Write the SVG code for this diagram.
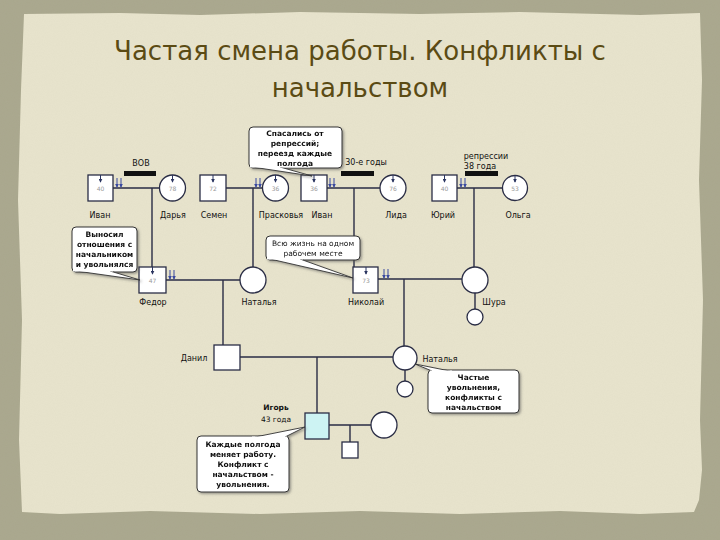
<svg xmlns="http://www.w3.org/2000/svg" width="720" height="540" viewBox="0 0 720 540">
<defs>
<filter id="grain" x="0" y="0" width="100%" height="100%">
<feTurbulence type="fractalNoise" baseFrequency="0.9" numOctaves="2" seed="3" result="n"/>
<feColorMatrix in="n" type="matrix" values="0 0 0 0 0.45  0 0 0 0 0.43  0 0 0 0 0.33  0 0 0 0.35 0"/>
</filter>
<filter id="sh" x="-10%" y="-10%" width="130%" height="140%">
<feDropShadow dx="1.5" dy="1.5" stdDeviation="0.8" flood-color="#555" flood-opacity="0.55"/>
</filter>
<marker id="ah" viewBox="0 0 6 6" refX="5" refY="3" markerWidth="4" markerHeight="4" orient="auto">
<path d="M0,0 L6,3 L0,6 z" fill="#2b3560"/>
</marker>
<marker id="ab" viewBox="0 0 6 6" refX="5" refY="3" markerWidth="4" markerHeight="4" orient="auto">
<path d="M0,0 L6,3 L0,6 z" fill="#3a4aa0"/>
</marker>
</defs>
<style>
.title{font-family:"DejaVu Sans",Verdana,sans-serif;font-size:26px;fill:#5b4b14;text-anchor:middle}
.lbl{font-family:"DejaVu Sans",sans-serif;font-size:8px;fill:#111;text-anchor:middle}
.num{font-family:"DejaVu Sans",sans-serif;font-size:6px;fill:#999;text-anchor:middle}
.co{font-family:"DejaVu Sans",sans-serif;font-size:7.5px;font-weight:bold;fill:#111;text-anchor:middle}
.cor{font-family:"DejaVu Sans",sans-serif;font-size:7.5px;fill:#111;text-anchor:middle}
.m{fill:#fff;stroke:#2a2d45;stroke-width:1.3}
.f{fill:#fff;stroke:#2a2d45;stroke-width:1.3}
.ln{stroke:#2a2d45;stroke-width:1.4;fill:none}
.in{stroke:#2b3560;stroke-width:1;marker-end:url(#ah)}
.dbl{stroke:#3a4aa0;stroke-width:1;marker-end:url(#ab)}
.bar{fill:#111}
.cb{fill:#fff;stroke:#333;stroke-width:1}
.tail{fill:#fff;stroke:#333;stroke-width:0.9}
</style>
<!-- background -->
<rect width="720" height="540" fill="#a9a78d"/>
<rect width="720" height="540" filter="url(#grain)" opacity="0.6"/>
<path d="M24,14 L120,13 L200,15 L300,12 L420,14 L520,12 L640,15 L700,13 L702,80 L699,180 L703,300 L700,420 L702,470 L699,500 L694,512 L640,514 L560,511 L460,514 L360,511 L260,514 L150,511 L60,514 L22,512 L19,440 L22,320 L18,200 L21,90 Z" fill="#e8e4cd"/>
<path d="M24,14 L120,13 L200,15 L300,12 L420,14 L520,12 L640,15 L700,13 L702,80 L699,180 L703,300 L700,420 L702,470 L699,500 L694,512 L640,514 L560,511 L460,514 L360,511 L260,514 L150,511 L60,514 L22,512 L19,440 L22,320 L18,200 L21,90 Z" filter="url(#grain)" opacity="0.2"/>
<!-- title -->
<text class="title" x="360" y="60">Частая смена работы. Конфликты с</text>
<text class="title" x="360" y="97">начальством</text>
<!-- event bars -->
<g id="events">
<text class="lbl" x="141" y="166">ВОВ</text>
<rect class="bar" x="124" y="171" width="32" height="5"/>
<text class="lbl" x="366" y="165">30-е годы</text>
<rect class="bar" x="341" y="171" width="33" height="5"/>
<text class="lbl" x="486" y="159">репрессии</text>
<text class="lbl" x="480" y="169">38 года</text>
<rect class="bar" x="465" y="171" width="33" height="5"/>
</g>
<!-- connectors -->
<g id="connectors">
<path class="ln" d="M113,188 H159 M152,188 V267"/>
<path class="ln" d="M226,188 H262 M253,188 V267"/>
<path class="ln" d="M327,188 H380 M354,188 V267"/>
<path class="ln" d="M457,188 H503 M474,188 V267"/>
<path class="ln" d="M166,280 H240 M223,280 V345"/>
<path class="ln" d="M378,279 H462 M404,279 V346 M475,293 V309"/>
<path class="ln" d="M240,357 H393 M317,357 V413 M405,370 V381"/>
<path class="ln" d="M329,425 H371 M350,425 V442"/>
<line class="dbl" x1="117" y1="178" x2="117" y2="187"/><line class="dbl" x1="121" y1="178" x2="121" y2="187"/>
<line class="dbl" x1="256" y1="178" x2="256" y2="187"/><line class="dbl" x1="260" y1="178" x2="260" y2="187"/>
<line class="dbl" x1="330" y1="178" x2="330" y2="187"/><line class="dbl" x1="334" y1="178" x2="334" y2="187"/>
<line class="dbl" x1="461" y1="178" x2="461" y2="187"/><line class="dbl" x1="465" y1="178" x2="465" y2="187"/>
<line class="dbl" x1="170" y1="270" x2="170" y2="279"/><line class="dbl" x1="174" y1="270" x2="174" y2="279"/>
<line class="dbl" x1="384" y1="269" x2="384" y2="278"/><line class="dbl" x1="388" y1="269" x2="388" y2="278"/>
</g>
<!-- row 1 -->
<g id="ivan1"><rect class="m" x="88" y="175" width="25" height="26"/><line class="in" x1="100.5" y1="175" x2="100.5" y2="182"/><text class="num" x="100.5" y="191">40</text><text class="lbl" x="100" y="218">Иван</text></g>
<g id="darya"><circle class="f" cx="172.5" cy="188" r="13"/><line class="in" x1="172.5" y1="175" x2="172.5" y2="182"/><text class="num" x="172.5" y="191">78</text><text class="lbl" x="173" y="218">Дарья</text></g>
<g id="semen"><rect class="m" x="200" y="175" width="26" height="26"/><line class="in" x1="213" y1="175" x2="213" y2="182"/><text class="num" x="213" y="191">72</text><text class="lbl" x="214" y="218">Семен</text></g>
<g id="praskovya"><circle class="f" cx="275.5" cy="188" r="13"/><line class="in" x1="275.5" y1="175" x2="275.5" y2="182"/><text class="num" x="275.5" y="191">36</text><text class="lbl" x="281" y="218">Прасковья</text></g>
<g id="ivan2"><rect class="m" x="301" y="175" width="26" height="26"/><line class="in" x1="314" y1="175" x2="314" y2="182"/><text class="num" x="314" y="191">36</text><text class="lbl" x="322" y="218">Иван</text></g>
<g id="lida"><circle class="f" cx="393" cy="188" r="13"/><line class="in" x1="393" y1="175" x2="393" y2="182"/><text class="num" x="393" y="191">76</text><text class="lbl" x="396" y="218">Лида</text></g>
<g id="yuriy"><rect class="m" x="432" y="175" width="25" height="26"/><line class="in" x1="444.5" y1="175" x2="444.5" y2="182"/><text class="num" x="444.5" y="191">40</text><text class="lbl" x="443" y="218">Юрий</text></g>
<g id="olga"><circle class="f" cx="515" cy="188" r="12.5"/><line class="in" x1="515" y1="175.5" x2="515" y2="182"/><text class="num" x="515" y="191">53</text><text class="lbl" x="518" y="218">Ольга</text></g>
<!-- row 2 -->
<g id="fedor"><rect class="m" x="139" y="267" width="27" height="26"/><line class="in" x1="152.5" y1="267" x2="152.5" y2="274"/><text class="num" x="152.5" y="283">47</text><text class="lbl" x="153" y="305">Федор</text></g>
<g id="natalya1"><circle class="f" cx="253" cy="280" r="13"/><text class="lbl" x="259" y="305">Наталья</text></g>
<g id="nikolay"><rect class="m" x="353" y="267" width="25" height="26"/><line class="in" x1="366" y1="267" x2="366" y2="274"/><text class="num" x="366" y="283">73</text><text class="lbl" x="366" y="305">Николай</text></g>
<g id="shura"><circle class="f" cx="475" cy="280" r="13"/><text class="lbl" x="494" y="305">Шура</text></g>
<g id="shura_child"><circle class="f" cx="475" cy="317" r="8"/></g>
<!-- row 3 -->
<g id="danil"><rect class="m" x="214" y="345" width="26" height="25"/><text class="lbl" x="194" y="361">Данил</text></g>
<g id="natalya2"><circle class="f" cx="405" cy="358" r="12"/><text class="lbl" x="440" y="362">Наталья</text></g>
<g id="natalya2_child"><circle class="f" cx="405" cy="389" r="8"/></g>
<!-- row 4 -->
<g id="igor"><rect x="305" y="413" width="24" height="26" fill="#cdf3f3" stroke="#2a2d45" stroke-width="1.3"/><text class="co" x="276" y="410" font-size="8">Игорь</text><text class="cor" x="276" y="422">43 года</text></g>
<g id="igor_wife"><circle class="f" cx="384" cy="425" r="13"/></g>
<g id="igor_child"><rect class="m" x="342" y="442" width="16" height="16"/></g>
<!-- callouts -->
<g id="callout1" filter="url(#sh)">
<rect class="cb" x="249" y="127" width="93" height="41" rx="4"/>
<path class="tail" d="M252,167 L312,176 L280,167"/>
<rect x="250" y="165" width="60" height="2.5" fill="#fff"/>
<text class="co" x="295" y="136">Спасались от</text>
<text class="co" x="295" y="146">репрессий;</text>
<text class="co" x="295" y="156">переезд каждые</text>
<text class="co" x="295" y="166">полгода</text>
</g>
<g id="callout2" filter="url(#sh)">
<rect class="cb" x="72" y="227" width="65" height="45" rx="4"/>
<path class="tail" d="M76,271 L140,280 L110,271"/>
<rect x="73" y="269" width="40" height="2.5" fill="#fff"/>
<text class="co" x="104.5" y="237">Выносил</text>
<text class="co" x="104.5" y="247">отношения с</text>
<text class="co" x="104.5" y="257">начальником</text>
<text class="co" x="104.5" y="267">и увольнялся</text>
</g>
<g id="callout3" filter="url(#sh)">
<rect class="cb" x="266" y="236" width="94" height="24" rx="4"/>
<path class="tail" d="M270,259 L353,278 L300,259"/>
<rect x="267" y="257" width="36" height="2.5" fill="#fff"/>
<text class="cor" x="313" y="246">Всю жизнь на одном</text>
<text class="cor" x="313" y="256">рабочем месте</text>
</g>
<g id="callout4" filter="url(#sh)">
<rect class="cb" x="428" y="370" width="91" height="43" rx="4"/>
<path class="tail" d="M432,371 L415,364 L450,371"/>
<rect x="430" y="370.5" width="22" height="2.5" fill="#fff"/>
<text class="co" x="473.5" y="380">Частые</text>
<text class="co" x="473.5" y="390">увольнения,</text>
<text class="co" x="473.5" y="400">конфликты с</text>
<text class="co" x="473.5" y="410">начальством</text>
</g>
<g id="callout5" filter="url(#sh)">
<rect class="cb" x="197" y="436" width="92" height="56" rx="4"/>
<path class="tail" d="M255,437 L305,427 L285,437"/>
<rect x="252" y="436.5" width="35" height="2.5" fill="#fff"/>
<text class="co" x="243" y="447">Каждые полгода</text>
<text class="co" x="243" y="457">меняет работу.</text>
<text class="co" x="243" y="467">Конфликт с</text>
<text class="co" x="243" y="477">начальством -</text>
<text class="co" x="243" y="487">увольнения.</text>
</g>
</svg>
